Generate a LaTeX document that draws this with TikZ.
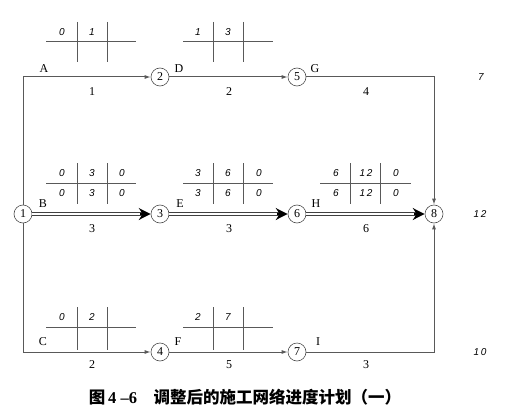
\documentclass[tikz,border=0pt]{standalone}
\usepackage{fontspec}
\setmainfont{Liberation Serif}
\newfontfamily\numfont{Liberation Sans}
\newfontfamily\cjk{Noto Sans CJK SC}
\usetikzlibrary{arrows.meta}
\begin{document}
\begin{tikzpicture}[x=1pt,y=-1pt,
  ev/.style={circle,draw=black!70,line width=0.6pt,minimum size=18pt,inner sep=0pt,font=\fontsize{12}{12}\selectfont},
  thin/.style={draw=black!65,line width=1pt},
  tharrow/.style={thin,-{Latex[length=6pt,width=4pt]}},
  crit/.style={draw=black!75,double=white,double distance=1.4pt,line width=1pt,shorten >=7pt},
  crittip/.style={line width=1.2pt,-{Stealth[length=12pt,width=12pt,inset=4pt]},shorten <=108pt},
  lab/.style={font=\fontsize{12}{12}\selectfont},
  tnum/.style={font=\numfont\itshape\fontsize{10}{10}\selectfont},
  tline/.style={draw=black!65,line width=1pt}]
\useasboundingbox (0,0) rectangle (513,417);
% events
\node[ev] (n1) at (23,214) {1};
\node[ev] (n2) at (160,77) {2};
\node[ev] (n3) at (160,214) {3};
\node[ev] (n4) at (160,352) {4};
\node[ev] (n5) at (297,77) {5};
\node[ev] (n6) at (297,214) {6};
\node[ev] (n7) at (297,352) {7};
\node[ev] (n8) at (434,214) {8};
% thin arrows
\draw[tharrow] (n1) |- (n2);
\draw[tharrow] (n2) -- (n5);
\draw[tharrow] (n5) -| (n8);
\draw[tharrow] (n1) |- (n4);
\draw[tharrow] (n4) -- (n7);
\draw[tharrow] (n7) -| (n8);
% critical path
\draw[crit] (n1) -- (n3);
\draw[crittip] (n1) -- (n3);
\draw[crit] (n3) -- (n6);
\draw[crittip] (n3) -- (n6);
\draw[crit] (n6) -- (n8);
\draw[crittip] (n6) -- (n8);
% activity labels
\node[lab] (lA) at (44,69) {A};
\node[lab] (dA) at (92,92) {1};
\node[lab] (lD) at (179,69) {D};
\node[lab] (dD) at (229,92) {2};
\node[lab] (lG) at (315,69) {G};
\node[lab] (dG) at (366,92) {4};
\node[lab] (lB) at (43,204) {B};
\node[lab] (dB) at (92,229) {3};
\node[lab] (lE) at (180,204) {E};
\node[lab] (dE) at (229,229) {3};
\node[lab] (lH) at (316,204) {H};
\node[lab] (dH) at (366,229) {6};
\node[lab] (lC) at (43,342) {C};
\node[lab] (dC) at (92,365) {2};
\node[lab] (lF) at (178,342) {F};
\node[lab] (dF) at (229,365) {5};
\node[lab] (lI) at (318,342) {I};
\node[lab] (dI) at (366,365) {3};
% totals
\node[tnum] (t1) at (481,77) {7};
\node[tnum] (t2) at (480,214) {1\,2};
\node[tnum] (t3) at (480,352) {1\,0};
% tables top
\draw[tline] (46,42) -- (136,42) (77,22) -- (77,62) (107,22) -- (107,62);
\node[tnum] (a1) at (62,32) {0};
\node[tnum] (a2) at (92,32) {1};
\draw[tline] (183,42) -- (273,42) (213,22) -- (213,62) (243,22) -- (243,62);
\node[tnum] (d1) at (198,32) {1};
\node[tnum] (d2) at (228,32) {3};
% tables middle
\draw[tline] (46,183) -- (136,183) (77,163) -- (77,204) (107,163) -- (107,204);
\node[tnum] (b1) at (62,173) {0};
\node[tnum] (b2) at (92,173) {3};
\node[tnum] (b3) at (122,173) {0};
\node[tnum] (b4) at (62,193) {0};
\node[tnum] (b5) at (92,193) {3};
\node[tnum] (b6) at (122,193) {0};
\draw[tline] (183,183) -- (273,183) (213,163) -- (213,204) (243,163) -- (243,204);
\node[tnum] (e1) at (198,173) {3};
\node[tnum] (e2) at (228,173) {6};
\node[tnum] (e3) at (259,173) {0};
\node[tnum] (e4) at (198,193) {3};
\node[tnum] (e5) at (228,193) {6};
\node[tnum] (e6) at (259,193) {0};
\draw[tline] (320,183) -- (411,183) (350,163) -- (350,204) (380,163) -- (380,204);
\node[tnum] (h1) at (336,173) {6};
\node[tnum] (h2) at (366,173) {1\,2};
\node[tnum] (h3) at (396,173) {0};
\node[tnum] (h4) at (336,193) {6};
\node[tnum] (h5) at (366,193) {1\,2};
\node[tnum] (h6) at (396,193) {0};
% tables bottom
\draw[tline] (46,327) -- (136,327) (77,307) -- (77,350) (107,307) -- (107,350);
\node[tnum] (c1) at (62,317) {0};
\node[tnum] (c2) at (92,317) {2};
\draw[tline] (183,327) -- (273,327) (213,307) -- (213,350) (243,307) -- (243,350);
\node[tnum] (f1) at (198,317) {2};
\node[tnum] (f2) at (228,317) {7};
% caption
\node[font=\cjk\bfseries\fontsize{16.5}{16.5}\selectfont] (cap) at (245,397) {图\,{\rmfamily\bfseries 4 –6}\quad 调整后的施工网络进度计划（一）};
\end{tikzpicture}
\end{document}
